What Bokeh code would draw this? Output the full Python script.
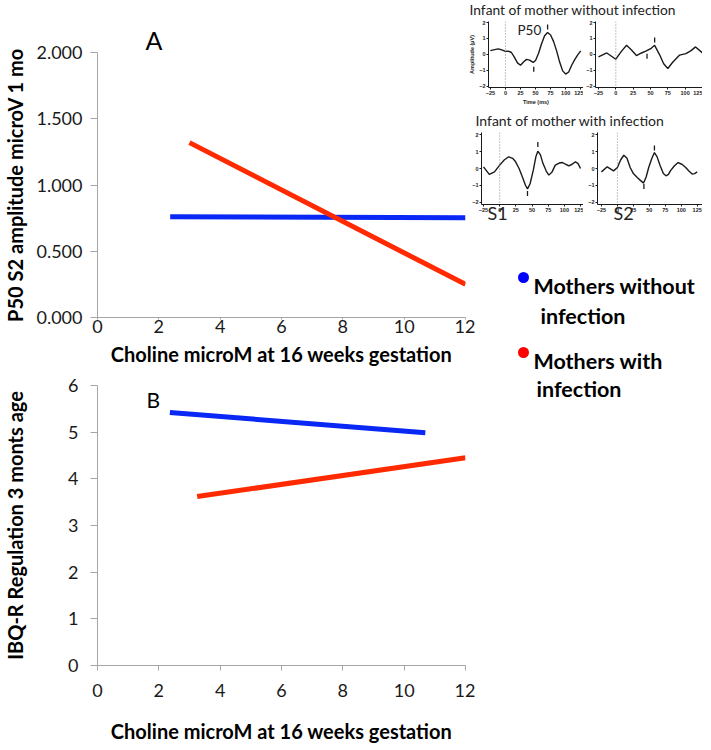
import math
from bokeh.plotting import figure
from bokeh.layouts import row, column
from bokeh.models import Range1d, Label, Span, FixedTicker, NumeralTickFormatter
from bokeh.embed import file_html
from bokeh.resources import INLINE
from bokeh.core.properties import value

FONT = "Lato"
BLUE = "#0a28f5"
RED = "#ff2a00"
AXIS_GRAY = "#a6a6a6"

# ---------------- data ----------------
choline_ticks = [0, 2, 4, 6, 8, 10, 12]
p50_ticks = [0.0, 0.5, 1.0, 1.5, 2.0]
ibq_ticks = [0, 1, 2, 3, 4, 5, 6]

# Panel A: P50 S2 amplitude vs choline
a_blue_choline = [2.37, 12.0]
a_blue_p50 = [0.76, 0.752]
a_red_choline = [3.0, 12.0]
a_red_p50 = [1.32, 0.25]

# Panel B: IBQ-R regulation vs choline
b_blue_choline = [2.36, 10.69]
b_blue_ibq = [5.42, 4.99]
b_red_choline = [3.25, 12.0]
b_red_ibq = [3.62, 4.45]

# ERP inset waveforms (time ms, amplitude microV)
erp_time_ticks = [-25, 0, 25, 50, 75, 100, 125]
erp_amp_ticks = [-2, -1, 0, 1, 2]

noinf_s1_t = [-25, -18, -12, -6, 0, 5, 10, 15, 20, 25, 30, 35, 40, 46, 50, 55, 60, 65, 70, 75,
              80, 85, 90, 95, 100, 105, 110, 115, 120, 125]
noinf_s1_a = [0.22, 0.28, 0.33, 0.26, 0.17, 0.18, 0.1, -0.2, -0.55, -0.7, -0.5, -0.33, -0.38, -0.52, -0.4,
              0.05, 0.65, 1.15, 1.35, 1.2, 0.78, 0.2, -0.5, -1.05, -1.25, -1.12, -0.7, -0.35, -0.05, 0.2]
noinf_s1_mark_t = [70, 47]
noinf_s1_mark_a = [1.7, -0.95]

noinf_s2_t = [-25, -13, 0, 8, 15.5, 22.6, 29.8, 37, 44, 51, 56, 63, 69, 75, 82, 92, 101, 108, 115, 125]
noinf_s2_a = [-0.18, 0.07, -0.32, 0.17, 0.55, 0.26, -0.09, 0.07, 0.2, 0.36, 0.55, -0.03, -0.6, -0.9,
              -0.51, -0.06, 0.03, 0.2, 0.45, 0.07]
noinf_s2_mark_t = [56, 45]
noinf_s2_mark_a = [0.88, -0.13]

inf_s1_t = [-25, -16, -8, 0, 7, 14, 20, 24, 30, 35, 40, 43, 47, 52, 56, 59, 63, 67, 72, 76, 81, 86,
            92, 97, 102, 107, 112, 117, 121, 125]
inf_s1_a = [0.1, -0.35, -0.2, 0.2, 0.5, 0.69, 0.6, 0.43, 0.0, -0.49, -1.0, -1.2, -0.9, -0.1, 0.7, 1.02,
            0.8, 0.29, -0.15, -0.39, -0.2, 0.2, 0.32, 0.35, 0.25, 0.16, 0.25, 0.39, 0.3, 0.0]
inf_s1_mark_t = [59, 43]
inf_s1_mark_a = [1.41, -1.47]

inf_s2_t = [-25, -16, -6, 0, 5, 10, 15, 20, 25, 31, 36, 41, 45, 49, 54, 58, 62, 67, 72, 76, 80, 83,
            89, 95, 101, 107, 112, 117, 121, 125]
inf_s2_a = [-0.2, 0.1, -0.14, 0.06, 0.5, 0.78, 0.6, 0.06, -0.3, -0.53, -0.7, -0.86, -0.5, 0.06, 0.6, 0.94,
            0.7, 0.16, -0.3, -0.43, -0.35, -0.14, 0.15, 0.35, 0.25, 0.06, -0.15, -0.33, -0.3, -0.2]
inf_s2_mark_t = [58, 41.5]
inf_s2_mark_a = [1.2, -1.06]

legend_colors = ["#0000ff", "#ff0000"]
legend_lines = ["Mothers without", "infection", "Mothers with", "infection"]


def base_fig(**kw):
    p = figure(toolbar_location=None, output_backend="svg", **kw)
    p.xgrid.visible = False
    p.ygrid.visible = False
    p.outline_line_color = None
    return p


def style_main_axis(ax, tick_out, label_standoff, title_standoff):
    ax.axis_line_color = AXIS_GRAY
    ax.axis_line_width = 1
    ax.major_tick_line_color = AXIS_GRAY
    ax.major_tick_out = tick_out
    ax.major_tick_in = 0
    ax.minor_tick_line_color = None
    ax.major_label_text_font = FONT
    ax.major_label_text_font_size = "18px"
    ax.major_label_text_color = "#1a1a1a"
    ax.major_label_standoff = label_standoff
    ax.axis_label_text_font = FONT
    ax.axis_label_text_font_size = "20px"
    ax.axis_label_text_font_style = "bold"
    ax.axis_label_text_color = "black"
    ax.axis_label_standoff = title_standoff


# ---------------- Panel A ----------------
pa = base_fig(width=475, height=371, x_range=Range1d(0, 12), y_range=Range1d(0, 2),
              min_border_left=97, min_border_right=10, min_border_top=52, min_border_bottom=54)
pa.line(a_blue_choline, a_blue_p50, line_color=BLUE, line_width=5)
pa.line(a_red_choline, a_red_p50, line_color=RED, line_width=5)
pa.xaxis.ticker = FixedTicker(ticks=choline_ticks)
pa.yaxis.ticker = FixedTicker(ticks=p50_ticks)
pa.yaxis.formatter = NumeralTickFormatter(format="0.000")
pa.xaxis.axis_label = "Choline microM at 16 weeks gestation"
pa.yaxis.axis_label = "P50 S2 amplitude microV 1 mo"
style_main_axis(pa.xaxis[0], 2, 0, 6)
style_main_axis(pa.yaxis[0], 7, 8, 6)
pa.title.text = "A"
pa.title.align = "left"
pa.title.offset = 48
pa.title.text_font = FONT
pa.title.text_font_size = "25px"
pa.title.text_font_style = "normal"
pa.title.text_color = "black"
pa.title.standoff = -5

# ---------------- Panel B ----------------
pb = base_fig(width=475, height=377, x_range=Range1d(0, 12), y_range=Range1d(0, 6),
              min_border_left=97, min_border_right=10, min_border_top=14, min_border_bottom=83)
pb.line(b_blue_choline, b_blue_ibq, line_color=BLUE, line_width=5)
pb.line(b_red_choline, b_red_ibq, line_color=RED, line_width=5)
pb.xaxis.ticker = FixedTicker(ticks=choline_ticks)
pb.yaxis.ticker = FixedTicker(ticks=ibq_ticks)
pb.xaxis.axis_label = "Choline microM at 16 weeks gestation"
pb.yaxis.axis_label = "IBQ-R Regulation 3 monts age"
style_main_axis(pb.xaxis[0], 5, 13, 19)
style_main_axis(pb.yaxis[0], 7, 12, 38)
pb.add_layout(Label(x=1.6, y=5.7, text="B", text_font=FONT, text_font_size="21px",
                    text_color="black", text_baseline="middle"))


# ---------------- ERP insets ----------------
def erp_fig(width, height, bl, bt, bb, xr, yr, t, a, mt, ma, xlabel=None, ylabel=None):
    p = base_fig(width=width, height=height, x_range=Range1d(*xr), y_range=Range1d(*yr),
                 min_border_left=bl, min_border_right=0, min_border_top=bt, min_border_bottom=bb)
    p.background_fill_alpha = 0
    p.border_fill_alpha = 0
    p.add_layout(Span(location=0, dimension="height", line_color="#888888",
                      line_dash="1 2", line_width=1))
    p.line(t, a, line_color="#1a1a1a", line_width=1.4)
    p.scatter(mt, ma, marker="dash", angle=math.pi / 2, size=5,
              line_color="#1a1a1a", line_width=1.3)
    p.xaxis.ticker = FixedTicker(ticks=erp_time_ticks)
    p.yaxis.ticker = FixedTicker(ticks=erp_amp_ticks)
    for ax in (p.xaxis[0], p.yaxis[0]):
        ax.axis_line_color = "#1a1a1a"
        ax.major_tick_line_color = "#1a1a1a"
        ax.major_tick_out = 2
        ax.major_tick_in = 0
        ax.minor_tick_line_color = None
        ax.major_label_text_font = "Liberation Sans"
        ax.major_label_text_font_style = "bold"
        ax.major_label_text_font_size = "5.5px"
        ax.major_label_text_color = "#222222"
        ax.major_label_standoff = 1
        ax.axis_label_text_font = "Liberation Sans"
        ax.axis_label_text_font_style = "bold"
        ax.axis_label_text_font_size = "5.5px"
        ax.axis_label_text_color = "#222222"
        ax.axis_label_standoff = 1
    if xlabel:
        p.xaxis.axis_label = xlabel
    if ylabel:
        p.yaxis.axis_label = ylabel
    return p


e1 = erp_fig(117, 87, 15, 1, 18, (-28.1, 129.6), (-2.09, 2.04),
             noinf_s1_t, noinf_s1_a, noinf_s1_mark_t, noinf_s1_mark_a,
             xlabel="Time (ms)", ylabel="Amplitude (\u00b5V)")
e1.add_layout(Label(x=20, y=1.5, text="P50", text_font=FONT, text_font_size="13.5px",
                    text_color="#222222", text_baseline="middle"))
e2 = erp_fig(119, 87, 12, 1, 18, (-29.3, 125), (-2.09, 2.04),
             noinf_s2_t, noinf_s2_a, noinf_s2_mark_t, noinf_s2_mark_a)
e3 = erp_fig(117, 83, 15, 1, 10, (-28.1, 129.6), (-2.12, 2.12),
             inf_s1_t, inf_s1_a, inf_s1_mark_t, inf_s1_mark_a)
e4 = erp_fig(119, 83, 14, 1, 10, (-31.2, 133.3), (-2.12, 2.12),
             inf_s2_t, inf_s2_a, inf_s2_mark_t, inf_s2_mark_a)


def blank_fig(w, h, **kw):
    p = base_fig(width=w, height=h, x_range=Range1d(0, w), y_range=Range1d(h, 0),
                 min_border=0, x_axis_type=None, y_axis_type=None, **kw)
    p.background_fill_alpha = 0
    p.border_fill_alpha = 0
    return p


RW = 236
t1 = blank_fig(RW, 20)
t1.text(x=[3], y=[8.5], text=["Infant of mother without infection"], text_font=value(FONT),
        text_font_size=value("13.8px"), text_color="#222222", text_baseline=value("middle"))
t2 = blank_fig(RW, 24)
t2.text(x=[9], y=[13], text=["Infant of mother with infection"], text_font=value(FONT),
        text_font_size=value("14px"), text_color="#222222", text_baseline=value("middle"))

lg = blank_fig(RW, 210, margin=(-14, 0, 0, 0))
lg.text(x=[21, 147], y=[12, 12], text=["S1", "S2"], text_font=value(FONT),
        text_font_size=value("18px"), text_color="#222222", text_baseline=value("middle"))
lg.scatter(x=[57, 57], y=[77, 152], marker="circle", size=11, fill_color=legend_colors,
           line_color=None)
lg.text(x=[67, 74, 67, 70], y=[85, 115, 160, 188], text=legend_lines,
        text_font=value(FONT), text_font_style="bold", text_font_size=value("21.5px"),
        text_color="black", text_baseline=value("middle"))

left = column(pa, pb)
right = column(t1, row(e1, e2), t2, row(e3, e4), lg, margin=(0, 0, 0, -9))
layout = row(left, right)

open("out.html", "w").write(file_html(layout, INLINE))
